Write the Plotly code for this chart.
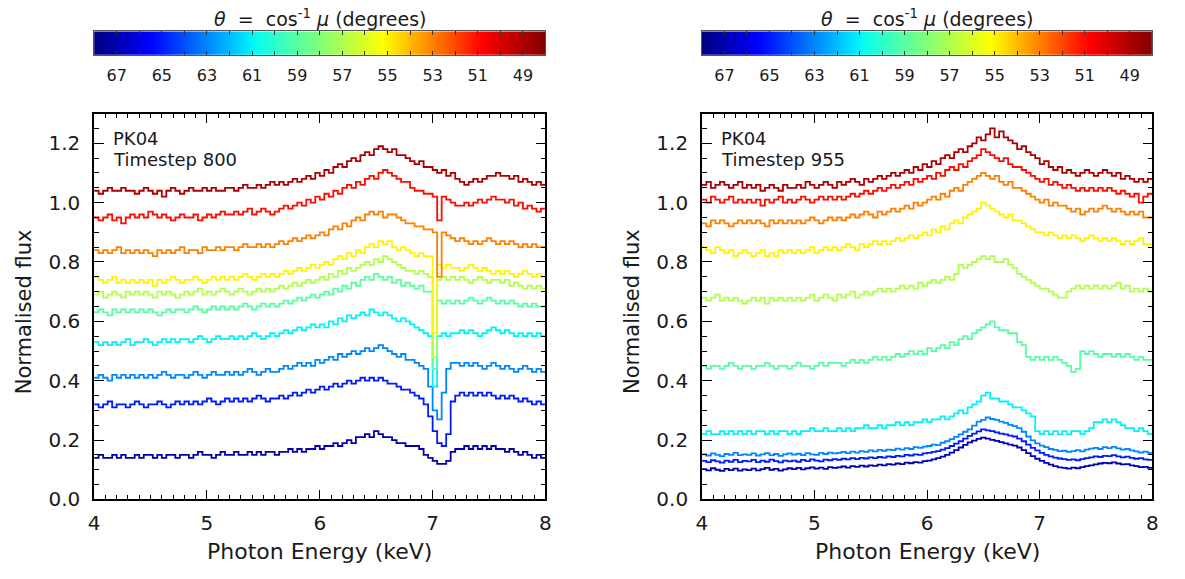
import numpy as np
import plotly.graph_objects as go

# ---------------------------------------------------------------------------
# Spectra: normalised flux in 0.04 keV bins from 4.00 to 8.00 keV
# (100 bins per spectrum), one spectrum per inclination angle.
# ---------------------------------------------------------------------------
BIN_WIDTH = 0.04
energy_edges = np.round(4.0 + BIN_WIDTH * np.arange(101), 2)

angles = [67, 65, 63, 61, 59, 57, 55, 53, 51, 49]

# ---- Timestep 800 ----
ts800_67 = [0.14,0.15,0.14,0.14,0.15,0.14,0.15,0.14,0.14,0.15,
            0.14,0.15,0.15,0.14,0.15,0.14,0.15,0.15,0.14,0.15,
            0.15,0.14,0.15,0.16,0.15,0.15,0.14,0.15,0.16,0.15,
            0.15,0.16,0.15,0.15,0.16,0.15,0.16,0.15,0.16,0.16,
            0.15,0.16,0.16,0.17,0.16,0.17,0.16,0.17,0.17,0.18,
            0.17,0.18,0.18,0.19,0.18,0.19,0.20,0.19,0.21,0.21,
            0.22,0.21,0.23,0.22,0.21,0.21,0.20,0.19,0.19,0.18,
            0.18,0.18,0.17,0.15,0.14,0.13,0.12,0.12,0.13,0.16,
            0.17,0.17,0.18,0.17,0.18,0.17,0.18,0.17,0.18,0.17,
            0.17,0.16,0.17,0.16,0.15,0.16,0.15,0.14,0.15,0.14]
ts800_65 = [0.32,0.31,0.32,0.33,0.31,0.32,0.32,0.31,0.32,0.33,
            0.32,0.31,0.32,0.32,0.33,0.32,0.31,0.32,0.33,0.32,
            0.33,0.32,0.33,0.32,0.33,0.34,0.33,0.32,0.33,0.34,
            0.33,0.34,0.33,0.34,0.33,0.34,0.35,0.34,0.33,0.34,
            0.34,0.35,0.34,0.35,0.36,0.35,0.36,0.37,0.36,0.37,
            0.38,0.37,0.38,0.39,0.38,0.39,0.40,0.39,0.40,0.41,
            0.40,0.41,0.40,0.41,0.40,0.39,0.39,0.38,0.37,0.37,
            0.36,0.35,0.34,0.32,0.28,0.23,0.19,0.18,0.22,0.33,
            0.35,0.36,0.35,0.36,0.35,0.36,0.35,0.36,0.35,0.34,
            0.35,0.34,0.35,0.34,0.33,0.34,0.33,0.32,0.33,0.32]
ts800_63 = [0.41,0.42,0.41,0.40,0.42,0.41,0.42,0.41,0.42,0.41,
            0.42,0.41,0.42,0.41,0.42,0.43,0.42,0.41,0.42,0.42,
            0.41,0.42,0.43,0.42,0.41,0.42,0.43,0.42,0.42,0.43,
            0.42,0.43,0.42,0.43,0.44,0.43,0.42,0.43,0.44,0.43,
            0.43,0.44,0.45,0.44,0.45,0.46,0.45,0.46,0.45,0.47,
            0.46,0.47,0.48,0.47,0.49,0.48,0.49,0.50,0.49,0.50,
            0.51,0.50,0.51,0.52,0.51,0.50,0.49,0.48,0.49,0.47,
            0.47,0.46,0.45,0.44,0.38,0.30,0.27,0.36,0.44,0.46,
            0.46,0.45,0.46,0.45,0.46,0.45,0.44,0.45,0.46,0.45,
            0.44,0.45,0.44,0.43,0.44,0.45,0.44,0.43,0.44,0.43]
ts800_61 = [0.53,0.52,0.53,0.52,0.53,0.52,0.53,0.54,0.52,0.53,
            0.53,0.54,0.53,0.52,0.53,0.54,0.53,0.54,0.53,0.54,
            0.54,0.53,0.54,0.55,0.54,0.53,0.54,0.55,0.54,0.54,
            0.55,0.54,0.55,0.54,0.55,0.56,0.55,0.54,0.55,0.56,
            0.55,0.56,0.57,0.56,0.57,0.58,0.57,0.58,0.59,0.58,
            0.59,0.58,0.60,0.59,0.61,0.60,0.62,0.61,0.62,0.63,
            0.62,0.64,0.63,0.62,0.63,0.62,0.61,0.60,0.61,0.60,
            0.59,0.58,0.57,0.56,0.55,0.38,0.55,0.56,0.55,0.56,
            0.56,0.57,0.56,0.57,0.56,0.55,0.56,0.57,0.58,0.57,
            0.56,0.57,0.56,0.55,0.56,0.55,0.56,0.55,0.56,0.55]
ts800_59 = [0.63,0.64,0.63,0.62,0.64,0.63,0.64,0.63,0.64,0.63,
            0.64,0.63,0.64,0.63,0.62,0.63,0.64,0.63,0.64,0.64,
            0.63,0.64,0.65,0.64,0.63,0.64,0.65,0.64,0.65,0.64,
            0.65,0.64,0.65,0.66,0.65,0.64,0.65,0.66,0.65,0.66,
            0.65,0.66,0.67,0.66,0.67,0.68,0.67,0.68,0.69,0.68,
            0.69,0.70,0.69,0.71,0.70,0.72,0.71,0.73,0.72,0.74,
            0.75,0.74,0.76,0.75,0.74,0.75,0.73,0.74,0.72,0.73,
            0.72,0.71,0.72,0.70,0.70,0.44,0.67,0.66,0.67,0.66,
            0.67,0.66,0.67,0.68,0.67,0.66,0.67,0.68,0.67,0.66,
            0.67,0.66,0.67,0.66,0.65,0.66,0.65,0.66,0.65,0.65]
ts800_57 = [0.69,0.70,0.68,0.69,0.70,0.69,0.68,0.70,0.69,0.70,
            0.69,0.70,0.69,0.68,0.70,0.69,0.70,0.69,0.68,0.69,
            0.70,0.69,0.70,0.71,0.69,0.70,0.69,0.70,0.71,0.70,
            0.69,0.70,0.71,0.70,0.69,0.70,0.71,0.70,0.71,0.70,
            0.71,0.72,0.71,0.72,0.73,0.72,0.73,0.74,0.73,0.74,
            0.75,0.74,0.76,0.75,0.77,0.76,0.78,0.77,0.78,0.79,
            0.80,0.79,0.81,0.80,0.82,0.81,0.80,0.79,0.78,0.77,
            0.77,0.76,0.77,0.76,0.75,0.48,0.74,0.75,0.74,0.75,
            0.74,0.75,0.74,0.73,0.74,0.75,0.74,0.73,0.74,0.74,
            0.73,0.74,0.72,0.73,0.72,0.71,0.72,0.71,0.72,0.71]
ts800_55 = [0.75,0.74,0.73,0.74,0.75,0.73,0.74,0.73,0.74,0.73,
            0.74,0.73,0.74,0.72,0.74,0.73,0.74,0.75,0.74,0.73,
            0.74,0.74,0.75,0.74,0.73,0.74,0.75,0.74,0.75,0.74,
            0.75,0.74,0.75,0.76,0.75,0.74,0.75,0.76,0.75,0.76,
            0.75,0.76,0.77,0.76,0.77,0.78,0.77,0.78,0.79,0.78,
            0.79,0.80,0.79,0.81,0.82,0.81,0.83,0.82,0.84,0.83,
            0.85,0.86,0.85,0.87,0.86,0.87,0.85,0.84,0.85,0.84,
            0.83,0.82,0.83,0.82,0.82,0.56,0.79,0.78,0.79,0.78,
            0.78,0.77,0.78,0.79,0.78,0.77,0.78,0.77,0.76,0.77,
            0.76,0.77,0.76,0.75,0.76,0.77,0.76,0.75,0.76,0.75]
ts800_53 = [0.84,0.83,0.84,0.83,0.84,0.85,0.83,0.84,0.83,0.84,
            0.83,0.84,0.83,0.82,0.84,0.83,0.84,0.83,0.84,0.85,
            0.83,0.84,0.84,0.83,0.85,0.84,0.84,0.85,0.84,0.85,
            0.85,0.84,0.85,0.86,0.85,0.85,0.86,0.85,0.86,0.85,
            0.86,0.87,0.86,0.87,0.88,0.87,0.88,0.89,0.88,0.89,
            0.90,0.89,0.91,0.92,0.91,0.93,0.92,0.94,0.95,0.94,
            0.96,0.97,0.96,0.97,0.95,0.96,0.96,0.95,0.94,0.93,
            0.93,0.92,0.92,0.91,0.91,0.90,0.75,0.90,0.89,0.88,
            0.87,0.88,0.87,0.86,0.87,0.86,0.87,0.88,0.87,0.86,
            0.87,0.86,0.87,0.86,0.85,0.86,0.85,0.86,0.85,0.85]
ts800_51 = [0.95,0.94,0.95,0.96,0.94,0.95,0.93,0.95,0.96,0.95,
            0.96,0.95,0.97,0.96,0.95,0.96,0.95,0.94,0.95,0.96,
            0.95,0.95,0.96,0.94,0.95,0.96,0.95,0.96,0.97,0.96,
            0.96,0.97,0.96,0.97,0.98,0.96,0.97,0.98,0.97,0.96,
            0.97,0.98,0.99,0.98,0.99,1.00,0.99,1.01,1.00,1.02,
            1.01,1.03,1.02,1.04,1.03,1.05,1.06,1.05,1.07,1.06,
            1.08,1.09,1.08,1.10,1.11,1.10,1.09,1.08,1.07,1.07,
            1.05,1.04,1.04,1.03,1.03,1.02,0.94,1.02,1.01,1.00,
            0.99,0.99,1.00,0.99,1.00,1.01,1.00,1.01,1.02,1.01,
            1.01,1.00,1.01,0.99,1.00,0.98,0.99,0.98,0.97,0.98]
ts800_49 = [1.04,1.03,1.04,1.05,1.04,1.04,1.05,1.04,1.04,1.03,
            1.04,1.05,1.04,1.03,1.04,1.02,1.04,1.05,1.04,1.03,
            1.04,1.05,1.04,1.04,1.05,1.04,1.05,1.04,1.04,1.05,
            1.05,1.04,1.05,1.06,1.05,1.05,1.06,1.05,1.06,1.07,
            1.06,1.07,1.06,1.07,1.08,1.07,1.08,1.09,1.08,1.10,
            1.09,1.11,1.10,1.12,1.13,1.12,1.14,1.15,1.14,1.16,
            1.17,1.16,1.18,1.19,1.18,1.17,1.18,1.16,1.16,1.15,
            1.14,1.13,1.14,1.12,1.12,1.11,1.10,1.11,1.09,1.10,
            1.08,1.07,1.06,1.07,1.08,1.07,1.08,1.09,1.09,1.10,
            1.09,1.09,1.08,1.09,1.07,1.08,1.07,1.06,1.07,1.06]

# ---- Timestep 955 ----
ts955_67 = [0.102,0.098,0.105,0.100,0.096,0.103,0.099,0.104,0.097,0.101,
            0.099,0.104,0.098,0.102,0.106,0.100,0.103,0.097,0.101,0.105,
            0.102,0.106,0.101,0.105,0.108,0.104,0.107,0.103,0.109,0.106,
            0.108,0.111,0.107,0.112,0.110,0.114,0.111,0.115,0.113,0.117,
            0.115,0.119,0.117,0.121,0.119,0.124,0.122,0.126,0.124,0.129,
            0.131,0.135,0.139,0.144,0.150,0.158,0.166,0.175,0.184,0.192,
            0.198,0.204,0.208,0.205,0.201,0.197,0.193,0.189,0.185,0.181,
            0.175,0.166,0.156,0.146,0.137,0.130,0.123,0.117,0.112,0.108,
            0.106,0.104,0.107,0.105,0.109,0.112,0.115,0.118,0.121,0.123,
            0.122,0.125,0.121,0.118,0.119,0.115,0.112,0.109,0.110,0.106]
ts955_65 = [0.130,0.126,0.132,0.128,0.124,0.131,0.127,0.133,0.126,0.130,
            0.128,0.133,0.126,0.131,0.127,0.134,0.129,0.125,0.131,0.128,
            0.131,0.127,0.133,0.129,0.135,0.131,0.128,0.134,0.132,0.136,
            0.133,0.137,0.135,0.139,0.136,0.140,0.138,0.142,0.139,0.143,
            0.141,0.145,0.143,0.147,0.145,0.150,0.148,0.152,0.150,0.155,
            0.157,0.160,0.163,0.168,0.173,0.180,0.188,0.196,0.205,0.214,
            0.222,0.229,0.236,0.233,0.230,0.226,0.222,0.219,0.215,0.212,
            0.205,0.196,0.185,0.174,0.165,0.157,0.150,0.145,0.141,0.138,
            0.136,0.133,0.135,0.132,0.136,0.139,0.142,0.145,0.143,0.147,
            0.146,0.149,0.145,0.142,0.144,0.140,0.137,0.139,0.135,0.133]
ts955_63 = [0.152,0.148,0.155,0.150,0.146,0.153,0.150,0.157,0.149,0.152,
            0.150,0.155,0.148,0.152,0.156,0.149,0.153,0.147,0.152,0.155,
            0.151,0.154,0.149,0.156,0.152,0.150,0.157,0.153,0.158,0.155,
            0.157,0.160,0.156,0.161,0.158,0.163,0.160,0.165,0.162,0.167,
            0.164,0.168,0.166,0.171,0.168,0.173,0.170,0.176,0.174,0.178,
            0.180,0.185,0.183,0.191,0.196,0.203,0.211,0.219,0.228,0.236,
            0.249,0.262,0.268,0.276,0.271,0.268,0.262,0.258,0.251,0.247,
            0.240,0.228,0.212,0.199,0.189,0.181,0.176,0.170,0.167,0.163,
            0.164,0.160,0.163,0.166,0.162,0.168,0.171,0.174,0.170,0.176,
            0.173,0.177,0.172,0.168,0.170,0.165,0.162,0.158,0.161,0.157]
ts955_61 = [0.22,0.23,0.22,0.22,0.23,0.22,0.23,0.22,0.23,0.22,
            0.23,0.22,0.23,0.23,0.22,0.23,0.22,0.23,0.23,0.22,
            0.23,0.22,0.23,0.23,0.24,0.23,0.23,0.24,0.23,0.23,
            0.24,0.23,0.24,0.23,0.24,0.24,0.25,0.24,0.24,0.25,
            0.24,0.25,0.25,0.26,0.25,0.26,0.25,0.26,0.26,0.27,
            0.26,0.27,0.27,0.28,0.27,0.28,0.29,0.30,0.29,0.31,
            0.32,0.33,0.35,0.36,0.34,0.34,0.33,0.33,0.32,0.31,
            0.31,0.30,0.29,0.28,0.23,0.22,0.23,0.22,0.23,0.22,
            0.23,0.22,0.23,0.23,0.22,0.23,0.24,0.26,0.26,0.27,
            0.26,0.27,0.26,0.25,0.24,0.24,0.23,0.24,0.23,0.22]
ts955_59 = [0.45,0.44,0.45,0.45,0.44,0.45,0.46,0.45,0.44,0.45,
            0.45,0.44,0.45,0.45,0.46,0.45,0.44,0.45,0.45,0.44,
            0.45,0.46,0.45,0.45,0.44,0.45,0.46,0.45,0.46,0.46,
            0.46,0.45,0.46,0.47,0.46,0.47,0.46,0.47,0.48,0.47,
            0.48,0.47,0.48,0.49,0.48,0.49,0.50,0.49,0.50,0.49,
            0.51,0.50,0.51,0.52,0.51,0.53,0.52,0.54,0.55,0.54,
            0.56,0.57,0.58,0.59,0.60,0.58,0.57,0.57,0.56,0.56,
            0.53,0.52,0.48,0.47,0.48,0.47,0.48,0.47,0.48,0.47,
            0.46,0.45,0.43,0.44,0.50,0.49,0.50,0.49,0.48,0.49,
            0.49,0.48,0.49,0.48,0.49,0.48,0.47,0.48,0.47,0.47]
ts955_57 = [0.68,0.67,0.68,0.69,0.67,0.68,0.67,0.68,0.67,0.66,
            0.67,0.68,0.67,0.68,0.66,0.68,0.67,0.68,0.67,0.68,
            0.67,0.68,0.67,0.68,0.69,0.67,0.68,0.69,0.68,0.67,
            0.69,0.68,0.69,0.70,0.68,0.69,0.70,0.69,0.70,0.71,
            0.70,0.71,0.70,0.71,0.72,0.71,0.72,0.71,0.73,0.72,
            0.73,0.74,0.73,0.74,0.75,0.74,0.76,0.79,0.78,0.79,
            0.80,0.81,0.82,0.81,0.82,0.80,0.80,0.81,0.79,0.78,
            0.76,0.75,0.74,0.73,0.72,0.71,0.71,0.70,0.69,0.68,
            0.68,0.70,0.71,0.72,0.71,0.72,0.71,0.72,0.71,0.72,
            0.71,0.72,0.73,0.71,0.72,0.70,0.71,0.70,0.71,0.70]
ts955_55 = [0.85,0.84,0.83,0.85,0.84,0.83,0.84,0.82,0.83,0.84,
            0.83,0.82,0.83,0.84,0.82,0.83,0.82,0.84,0.83,0.84,
            0.83,0.84,0.83,0.84,0.85,0.83,0.84,0.85,0.84,0.85,
            0.84,0.85,0.86,0.85,0.84,0.86,0.85,0.86,0.87,0.86,
            0.87,0.86,0.87,0.88,0.87,0.88,0.89,0.88,0.89,0.90,
            0.89,0.91,0.90,0.92,0.91,0.93,0.94,0.93,0.95,0.96,
            0.97,0.98,1.00,0.99,0.98,0.97,0.96,0.95,0.96,0.94,
            0.94,0.93,0.92,0.91,0.90,0.90,0.89,0.90,0.89,0.88,
            0.89,0.88,0.89,0.88,0.87,0.88,0.89,0.88,0.87,0.88,
            0.87,0.88,0.87,0.86,0.87,0.86,0.87,0.88,0.86,0.86]
ts955_53 = [0.93,0.92,0.94,0.93,0.94,0.93,0.92,0.93,0.94,0.93,
            0.94,0.93,0.94,0.93,0.92,0.94,0.93,0.94,0.93,0.94,
            0.93,0.94,0.93,0.94,0.95,0.94,0.93,0.94,0.95,0.94,
            0.95,0.94,0.95,0.96,0.95,0.96,0.97,0.96,0.95,0.97,
            0.96,0.97,0.98,0.97,0.98,0.99,0.98,1.00,0.99,1.00,
            1.01,1.02,1.01,1.03,1.02,1.04,1.05,1.04,1.06,1.07,
            1.08,1.09,1.10,1.09,1.08,1.09,1.07,1.06,1.07,1.05,
            1.05,1.04,1.03,1.02,1.01,1.00,1.01,0.99,1.00,0.99,
            0.99,0.98,0.97,0.98,0.96,0.97,0.98,0.97,0.98,0.99,
            0.98,0.97,0.98,0.97,0.96,0.97,0.96,0.97,0.95,0.95]
ts955_51 = [1.01,1.00,1.02,1.01,1.00,1.01,1.02,1.00,1.01,1.00,
            1.01,1.00,1.01,0.99,1.01,1.00,1.01,1.02,1.00,1.01,
            1.00,1.01,1.02,1.01,1.00,1.01,1.02,1.01,1.02,1.01,
            1.02,1.01,1.02,1.03,1.02,1.03,1.04,1.03,1.04,1.05,
            1.04,1.05,1.06,1.05,1.06,1.07,1.06,1.08,1.07,1.08,
            1.09,1.08,1.10,1.09,1.11,1.12,1.11,1.13,1.12,1.14,
            1.15,1.16,1.18,1.17,1.16,1.15,1.14,1.15,1.13,1.12,
            1.12,1.11,1.10,1.09,1.08,1.07,1.08,1.06,1.07,1.06,
            1.05,1.06,1.05,1.04,1.05,1.04,1.05,1.04,1.05,1.04,
            1.05,1.04,1.03,1.04,1.03,1.02,1.03,1.00,1.02,1.03]
ts955_49 = [1.06,1.07,1.05,1.06,1.07,1.06,1.05,1.06,1.07,1.05,
            1.06,1.05,1.06,1.04,1.05,1.06,1.05,1.04,1.06,1.05,
            1.05,1.06,1.05,1.07,1.06,1.05,1.06,1.07,1.06,1.05,
            1.07,1.06,1.07,1.08,1.07,1.06,1.08,1.07,1.08,1.09,
            1.08,1.09,1.10,1.09,1.10,1.11,1.10,1.12,1.11,1.13,
            1.12,1.14,1.13,1.15,1.16,1.15,1.17,1.18,1.17,1.19,
            1.20,1.22,1.21,1.23,1.25,1.22,1.24,1.22,1.21,1.20,
            1.18,1.19,1.17,1.16,1.15,1.13,1.14,1.12,1.11,1.12,
            1.10,1.11,1.10,1.09,1.10,1.11,1.10,1.09,1.10,1.11,
            1.10,1.09,1.10,1.08,1.09,1.08,1.07,1.08,1.07,1.08]

panels = [
    ("800", [ts800_67, ts800_65, ts800_63, ts800_61, ts800_59,
             ts800_57, ts800_55, ts800_53, ts800_51, ts800_49]),
    ("955", [ts955_67, ts955_65, ts955_63, ts955_61, ts955_59,
             ts955_57, ts955_55, ts955_53, ts955_51, ts955_49]),
]

cbar_ticks = [67, 65, 63, 61, 59, 57, 55, 53, 51, 49]
THETA_MIN, THETA_MAX = 48, 68


def jet(t):
    """Jet-style rainbow colour map, t in [0, 1] (navy -> blue -> cyan -> yellow -> red -> maroon)."""
    r = np.interp(t, [0, 0.35, 0.64, 0.86, 1], [0, 0, 1, 1, 0.5])
    g = np.interp(t, [0, 0.125, 0.36, 0.64, 0.86, 1], [0, 0, 1, 1, 0, 0])
    b = np.interp(t, [0, 0.125, 0.34, 0.64, 1], [0.5, 1, 1, 0, 0])
    return "rgb(%d,%d,%d)" % (round(r * 255), round(g * 255), round(b * 255))


def angle_colour(theta):
    # large angles at the blue end, small angles at the red end
    return jet((THETA_MAX - theta) / (THETA_MAX - THETA_MIN))


FONT = "DejaVu Sans, Verdana, sans-serif"
TXT = "#1a1a1a"
W, H = 1185, 579

# panel placement in pixels
plot_left = [89, 703]
plot_right = [545, 1158]
plot_top, plot_bottom = 116, 510
cbar_top, cbar_bottom = 32, 56


def px_x(p):
    return p / W


def px_y(p):
    return 1 - p / H


fig = go.Figure()

for k, (step, series) in enumerate(panels):
    xa = "x" if k == 0 else "x2"
    ya = "y" if k == 0 else "y2"
    for theta, flux in zip(angles, series):
        fig.add_trace(go.Scatter(
            x=energy_edges, y=list(flux) + [flux[-1]],
            mode="lines", line=dict(shape="hv", width=1.8, color=angle_colour(theta)),
            xaxis=xa, yaxis=ya, showlegend=False, hoverinfo="skip",
        ))

    # colour bar drawn as a one-row heatmap
    theta_grid = np.linspace(THETA_MIN, THETA_MAX, 201)
    cs = [[s, jet(1 - s)] for s in np.linspace(0, 1, 51)]
    fig.add_trace(go.Heatmap(
        x=theta_grid, y=[0.5], z=[theta_grid], colorscale=cs,
        zmin=THETA_MIN, zmax=THETA_MAX, showscale=False, zsmooth="best",
        xaxis="x3" if k == 0 else "x4", yaxis="y3" if k == 0 else "y4",
        hoverinfo="skip",
    ))

axis_common = dict(
    showline=True, linecolor="black", linewidth=1.5, mirror="ticks",
    ticks="inside", tickcolor="black", tickwidth=1.3, ticklen=10,
    showgrid=False, zeroline=False,
    tickfont=dict(family=FONT, size=20, color=TXT),
)

layout = dict(
    width=W, height=H, margin=dict(l=0, r=0, t=0, b=0),
    paper_bgcolor="white", plot_bgcolor="white",
    font=dict(family=FONT, color=TXT),
)

for k in range(2):
    xdom = [px_x(plot_left[k]), px_x(plot_right[k])]
    sx = "" if k == 0 else "2"
    layout["xaxis" + sx] = dict(
        axis_common, domain=xdom, range=[4, 8], tickvals=[4, 5, 6, 7, 8],
        anchor="y" + sx, ticklabelstandoff=5,
        minor=dict(dtick=0.1, ticklen=5, ticks="inside", tickcolor="black", tickwidth=1.2),
    )
    layout["yaxis" + sx] = dict(
        axis_common, domain=[px_y(plot_bottom), px_y(plot_top)], range=[0, 1.3],
        tickvals=[0, 0.2, 0.4, 0.6, 0.8, 1.0, 1.2], tickformat=".1f",
        anchor="x" + sx, ticklabelstandoff=8,
        minor=dict(dtick=0.05, ticklen=5, ticks="inside", tickcolor="black", tickwidth=1.2),
    )
    cx = "3" if k == 0 else "4"
    layout["xaxis" + cx] = dict(
        domain=xdom, range=[THETA_MAX, THETA_MIN], anchor="y" + cx,
        showline=True, linecolor="#555", linewidth=1, mirror="ticks",
        ticks="inside", ticklen=4, tickcolor="#333", tickwidth=1,
        tickvals=cbar_ticks, showgrid=False, zeroline=False,
        tickfont=dict(family=FONT, size=16, color=TXT), ticklabelstandoff=6,
        minor=dict(dtick=1, ticklen=4, ticks="inside", tickcolor="#333", tickwidth=1),
    )
    layout["yaxis" + cx] = dict(
        domain=[px_y(cbar_bottom), px_y(cbar_top)], range=[0, 1], anchor="x" + cx,
        showline=True, linecolor="#555", linewidth=1, mirror=True,
        showticklabels=False, ticks="", showgrid=False, zeroline=False,
    )

annotations = []
for k, (step, _) in enumerate(panels):
    left = plot_left[k]
    mid = (plot_left[k] + plot_right[k]) / 2
    annotations.append(dict(
        x=px_x(left + 17), y=px_y(141), text="PK04",
        xanchor="left", yanchor="middle", font=dict(size=18)))
    annotations.append(dict(
        x=px_x(left + 17), y=px_y(163), text="Timestep " + step,
        xanchor="left", yanchor="middle", font=dict(size=18)))
    annotations.append(dict(
        x=px_x(mid), y=px_y(563), text="Photon Energy (keV)",
        xanchor="center", yanchor="middle", font=dict(size=22)))
    annotations.append(dict(
        x=px_x(left - 70), y=px_y(318), text="Normalised flux", textangle=-90,
        xanchor="center", yanchor="middle", font=dict(size=21)))
    annotations.append(dict(
        x=px_x(mid), y=px_y(18),
        text="<i>θ</i>  =  cos<sup>-1</sup> <i>μ</i> (degrees)",
        xanchor="center", yanchor="middle", font=dict(size=19)))

for a in annotations:
    a.update(xref="paper", yref="paper", showarrow=False)
    a["font"] = dict(a.get("font", {}), family=FONT, color=TXT)
layout["annotations"] = annotations

fig.update_layout(**layout)
fig.write_html("out.html")
